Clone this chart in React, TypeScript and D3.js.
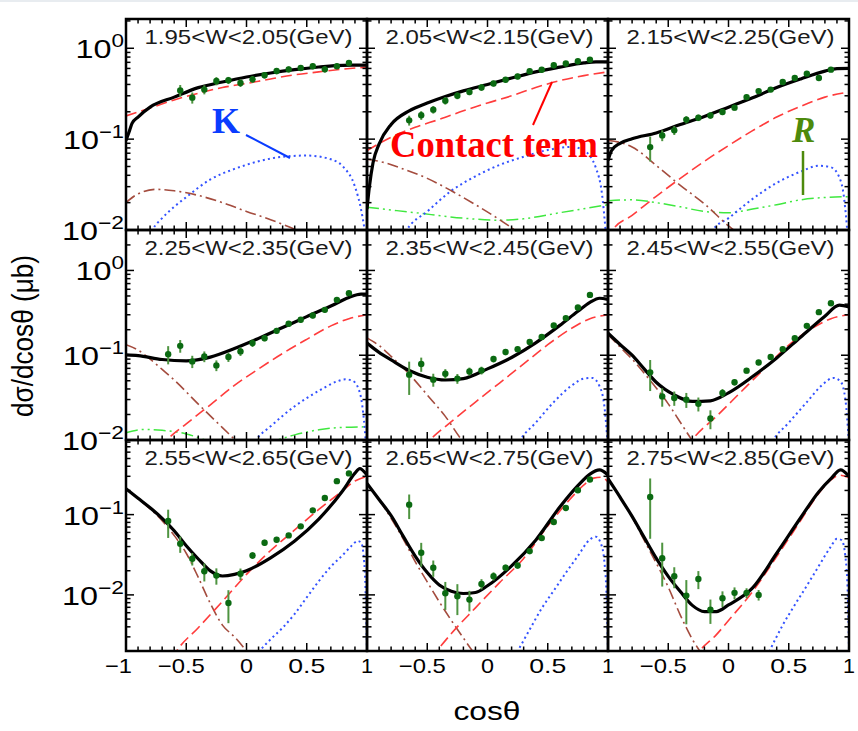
import React from "react";
import * as d3 from "d3";

type Pt = [number, number];

// ---------------- data ----------------
const panelTitles = [
  "1.95<W<2.05(GeV)", "2.05<W<2.15(GeV)", "2.15<W<2.25(GeV)",
  "2.25<W<2.35(GeV)", "2.35<W<2.45(GeV)", "2.45<W<2.55(GeV)",
  "2.55<W<2.65(GeV)", "2.65<W<2.75(GeV)", "2.75<W<2.85(GeV)",
];
const rowYDomains: [number, number][] = [[0.01, 2.1], [0.01, 3.0], [0.002, 0.85]];
const rowMajorTicks = [[1, 0.1, 0.01], [1, 0.1, 0.01], [0.1, 0.01]];
const tickExponents: Record<string, string> = { "1": "0", "0.1": "−1", "0.01": "−2" };
const xMajorTicks = [-1, -0.5, 0, 0.5, 1];
const xTickLabels = ["−1", "−0.5", "0", "0.5", "1"];

// black solid: total
const totalCurves: Pt[][] = [
  [[-1,0.097],[-0.97,0.125],[-0.95,0.149],[-0.9,0.175],[-0.8,0.225],[-0.6,0.29],[-0.4,0.369],[-0.2,0.425],[0,0.483],[0.2,0.535],[0.4,0.582],[0.6,0.622],[0.8,0.65],[1,0.652]],
  [[-1,0.017],[-0.98,0.03],[-0.95,0.055],[-0.9,0.088],[-0.8,0.145],[-0.65,0.205],[-0.5,0.25],[-0.35,0.295],[-0.2,0.34],[0,0.40],[0.2,0.47],[0.4,0.55],[0.6,0.62],[0.8,0.69],[0.9,0.71],[1,0.71]],
  [[-1,0.058],[-0.97,0.075],[-0.9,0.09],[-0.8,0.101],[-0.6,0.117],[-0.4,0.145],[-0.2,0.178],[0,0.225],[0.2,0.285],[0.4,0.37],[0.6,0.46],[0.8,0.56],[0.9,0.598],[1,0.60]],
  [[-1,0.101],[-0.9,0.099],[-0.7,0.089],[-0.5,0.086],[-0.3,0.095],[-0.1,0.12],[0.1,0.158],[0.3,0.212],[0.5,0.285],[0.7,0.38],[0.85,0.48],[0.95,0.525],[1,0.525]],
  [[-1,0.139],[-0.9,0.108],[-0.8,0.088],[-0.65,0.066],[-0.5,0.055],[-0.35,0.051],[-0.2,0.053],[0,0.069],[0.2,0.094],[0.4,0.14],[0.6,0.225],[0.75,0.33],[0.85,0.42],[0.93,0.47],[1,0.455]],
  [[-1,0.182],[-0.9,0.134],[-0.8,0.1],[-0.7,0.069],[-0.6,0.048],[-0.45,0.034],[-0.3,0.0285],[-0.15,0.029],[0,0.036],[0.2,0.056],[0.4,0.093],[0.6,0.164],[0.8,0.289],[0.92,0.39],[1,0.37]],
  [[-1,0.21],[-0.9,0.16],[-0.8,0.122],[-0.7,0.09],[-0.6,0.063],[-0.5,0.041],[-0.4,0.028],[-0.3,0.0199],[-0.2,0.0172],[-0.1,0.018],[0,0.020],[0.2,0.029],[0.4,0.047],[0.6,0.088],[0.8,0.2],[0.9,0.328],[0.94,0.375],[1,0.31]],
  [[-1,0.245],[-0.9,0.154],[-0.8,0.097],[-0.7,0.054],[-0.6,0.0305],[-0.5,0.019],[-0.4,0.0133],[-0.3,0.0111],[-0.2,0.0104],[-0.1,0.0107],[0,0.013],[0.2,0.023],[0.4,0.048],[0.6,0.124],[0.75,0.229],[0.85,0.32],[0.93,0.36],[1,0.31]],
  [[-1,0.28],[-0.9,0.165],[-0.8,0.095],[-0.7,0.052],[-0.6,0.0287],[-0.5,0.017],[-0.4,0.011],[-0.3,0.0074],[-0.2,0.0062],[-0.1,0.0062],[0,0.0075],[0.2,0.0122],[0.4,0.033],[0.6,0.092],[0.75,0.193],[0.85,0.28],[0.93,0.36],[1,0.30]],
];

// red dashed: contact term
const contactCurves: Pt[][] = [
  [[-1,0.18],[-0.8,0.22],[-0.6,0.27],[-0.4,0.32],[-0.2,0.37],[0,0.41],[0.2,0.46],[0.4,0.51],[0.6,0.55],[0.8,0.59],[1,0.62]],
  [[-1,0.075],[-0.8,0.105],[-0.6,0.135],[-0.4,0.165],[-0.2,0.205],[0,0.25],[0.2,0.30],[0.4,0.37],[0.6,0.44],[0.8,0.50],[1,0.55]],
  [[-1,0.0075],[-0.96,0.01],[-0.8,0.0145],[-0.6,0.0235],[-0.4,0.037],[-0.2,0.057],[0,0.085],[0.2,0.124],[0.4,0.175],[0.6,0.23],[0.8,0.29],[1,0.33]],
  [[-0.72,0.008],[-0.66,0.01],[-0.5,0.0155],[-0.3,0.026],[-0.1,0.044],[0.1,0.069],[0.3,0.105],[0.5,0.154],[0.7,0.222],[0.85,0.27],[1,0.30]],
  [[-0.55,0.008],[-0.48,0.01],[-0.3,0.0165],[-0.1,0.028],[0.1,0.047],[0.3,0.079],[0.5,0.133],[0.7,0.209],[0.85,0.27],[1,0.30]],
  [[-0.35,0.0078],[-0.3,0.01],[-0.1,0.019],[0.1,0.0365],[0.3,0.07],[0.5,0.132],[0.7,0.21],[0.85,0.27],[1,0.30]],
  [[-0.62,0.0016],[-0.58,0.002],[-0.4,0.0039],[-0.2,0.0083],[0,0.018],[0.2,0.0357],[0.4,0.0645],[0.6,0.116],[0.8,0.2],[0.9,0.262],[1,0.30]],
  [[-0.47,0.0016],[-0.42,0.002],[-0.3,0.0033],[-0.1,0.0069],[0.1,0.0142],[0.3,0.0284],[0.5,0.072],[0.7,0.165],[0.8,0.235],[0.88,0.285],[0.94,0.292],[1,0.256]],
  [[-0.3,0.0015],[-0.24,0.002],[-0.1,0.0032],[0,0.0048],[0.2,0.011],[0.4,0.03],[0.6,0.085],[0.75,0.185],[0.85,0.27],[0.92,0.31],[1,0.29]],
];

// blue dotted: K exchange
const kaonCurves: Pt[][] = [
  [[-0.82,0.0075],[-0.78,0.01],[-0.7,0.0135],[-0.6,0.018],[-0.5,0.023],[-0.3,0.036],[-0.1,0.047],[0.1,0.057],[0.3,0.064],[0.5,0.066],[0.7,0.06],[0.8,0.05],[0.9,0.03],[0.95,0.017],[0.98,0.01],[1,0.006]],
  [[-0.72,0.0075],[-0.67,0.01],[-0.5,0.016],[-0.3,0.027],[-0.1,0.039],[0.1,0.052],[0.3,0.064],[0.5,0.076],[0.7,0.082],[0.8,0.075],[0.9,0.048],[0.95,0.025],[0.98,0.01],[1,0.005]],
  [[-0.18,0.0075],[-0.13,0.01],[0,0.0135],[0.2,0.022],[0.4,0.033],[0.6,0.044],[0.75,0.051],[0.85,0.049],[0.92,0.038],[0.96,0.022],[0.99,0.008],[1,0.005]],
  [[0.03,0.0075],[0.08,0.01],[0.2,0.0145],[0.4,0.025],[0.6,0.038],[0.75,0.049],[0.82,0.052],[0.88,0.05],[0.93,0.04],[0.96,0.026],[0.99,0.009],[1,0.005]],
  [[0.22,0.0075],[0.27,0.01],[0.4,0.016],[0.55,0.028],[0.7,0.044],[0.8,0.053],[0.87,0.054],[0.93,0.043],[0.97,0.025],[1,0.008]],
  [[0.32,0.0075],[0.37,0.01],[0.5,0.016],[0.65,0.028],[0.78,0.045],[0.87,0.054],[0.93,0.049],[0.97,0.03],[1,0.009]],
  [[0.05,0.0015],[0.11,0.002],[0.2,0.0028],[0.3,0.0039],[0.4,0.0058],[0.5,0.0093],[0.6,0.0148],[0.7,0.0225],[0.8,0.0315],[0.88,0.042],[0.92,0.047],[0.95,0.045],[0.97,0.033],[0.985,0.015],[1,0.002]],
  [[0.2,0.0015],[0.25,0.002],[0.35,0.0037],[0.45,0.0068],[0.55,0.0113],[0.65,0.0188],[0.75,0.0305],[0.85,0.049],[0.9,0.053],[0.94,0.044],[0.97,0.026],[0.99,0.008],[1,0.002]],
  [[0.3,0.0015],[0.34,0.002],[0.45,0.0042],[0.55,0.0075],[0.65,0.013],[0.75,0.023],[0.85,0.04],[0.9,0.05],[0.94,0.048],[0.97,0.03],[0.99,0.01],[1,0.002]],
];

// brown dash-dot
const uChannelCurves: Pt[][] = [
  [[-1,0.020],[-0.9,0.025],[-0.75,0.028],[-0.6,0.027],[-0.4,0.024],[-0.2,0.020],[0,0.016],[0.2,0.013],[0.4,0.0102],[0.5,0.009]],
  [[-1,0.06],[-0.85,0.055],[-0.7,0.047],[-0.5,0.037],[-0.3,0.027],[-0.1,0.019],[0.1,0.013],[0.25,0.0095],[0.3,0.0085]],
  [[-1,0.097],[-0.9,0.092],[-0.8,0.082],[-0.6,0.0514],[-0.4,0.031],[-0.2,0.0194],[0,0.0111],[0.05,0.0098],[0.1,0.0085]],
  [[-1,0.133],[-0.9,0.115],[-0.8,0.09],[-0.7,0.068],[-0.6,0.051],[-0.4,0.0265],[-0.2,0.014],[-0.1,0.0102],[-0.05,0.0087]],
  [[-1,0.16],[-0.9,0.13],[-0.8,0.097],[-0.65,0.06],[-0.5,0.034],[-0.35,0.019],[-0.2,0.0095],[-0.15,0.008]],
  [[-1,0.175],[-0.9,0.125],[-0.8,0.09],[-0.65,0.0503],[-0.5,0.0267],[-0.4,0.0162],[-0.3,0.0098],[-0.25,0.0078]],
  [[-1,0.21],[-0.9,0.158],[-0.8,0.118],[-0.7,0.084],[-0.6,0.055],[-0.5,0.033],[-0.4,0.0165],[-0.3,0.0078],[-0.2,0.0042],[-0.1,0.003],[0,0.002],[0.05,0.0016]],
  [[-1,0.245],[-0.9,0.153],[-0.8,0.09],[-0.7,0.05],[-0.6,0.026],[-0.5,0.0145],[-0.4,0.0082],[-0.3,0.0048],[-0.2,0.0029],[-0.1,0.0018],[-0.05,0.0015]],
  [[-1,0.28],[-0.9,0.163],[-0.8,0.093],[-0.7,0.048],[-0.6,0.025],[-0.5,0.0125],[-0.4,0.0056],[-0.3,0.0028],[-0.23,0.0019],[-0.2,0.0016]],
];

// green dash-dot-dot: resonance R
const resonanceCurves: Pt[][] = [
  [],
  [[-1,0.0178],[-0.6,0.0155],[-0.2,0.0135],[0.1,0.0128],[0.3,0.0133],[0.6,0.0155],[1,0.019]],
  [[-1,0.021],[-0.8,0.0215],[-0.6,0.02],[-0.4,0.018],[-0.2,0.016],[0,0.0155],[0.2,0.017],[0.4,0.019],[0.6,0.0215],[0.8,0.0228],[1,0.0233]],
  [[-1,0.0122],[-0.85,0.0133],[-0.7,0.013],[-0.5,0.0118],[-0.35,0.0101],[-0.2,0.0088],[0,0.0085],[0.2,0.0095],[0.4,0.0115],[0.6,0.0132],[0.8,0.0141],[1,0.0143]],
  [], [], [], [], [],
];

// data points
const cosA = [-0.65,-0.55,-0.45,-0.35,-0.25,-0.15,-0.05,0.05,0.15,0.25,0.35,0.45,0.55,0.65,0.75,0.85];
const cosP1 = [-0.55,-0.45,-0.35,-0.25,-0.15,-0.05,0.05,0.15,0.25,0.35,0.45,0.55,0.65,0.75,0.85];
const cosP9 = [-0.65,-0.55,-0.45,-0.35,-0.25,-0.15,-0.05,0.05,0.15,0.25];
const pointCos = [cosP1, cosA, cosA, cosA, cosA, cosA, cosA, cosA, cosP9];
const pointValues = [
  [0.344,0.286,0.351,0.436,0.444,0.415,0.455,0.504,0.562,0.586,0.607,0.634,0.586,0.634,0.689],
  [0.161,0.183,0.211,0.265,0.30,0.33,0.37,0.41,0.45,0.49,0.56,0.58,0.65,0.68,0.72,0.75],
  [0.0817,0.11,0.125,0.164,0.172,0.182,0.199,0.222,0.29,0.338,0.351,0.426,0.471,0.526,0.471,0.582],
  [0.103,0.129,0.0845,0.0968,0.0759,0.0953,0.111,0.139,0.159,0.194,0.235,0.262,0.294,0.343,0.45,0.54],
  [0.059,0.0787,0.0515,0.0605,0.053,0.0644,0.0662,0.0902,0.109,0.118,0.143,0.164,0.224,0.274,0.365,0.515],
  [0.0628,0.0327,0.0313,0.0299,0.0267,0.0179,0.0359,0.0479,0.0658,0.0822,0.0953,0.118,0.159,0.222,0.322,0.411],
  [0.0832,0.0434,0.0282,0.0197,0.0174,0.00794,0.0183,0.031,0.0447,0.0487,0.0551,0.0714,0.113,0.161,0.261,0.326],
  [0.133,0.0335,0.0218,0.0105,0.0096,0.00873,0.0137,0.0171,0.0218,0.0232,0.0351,0.051,0.0808,0.121,0.201,0.274],
  [0.166,0.0287,0.0171,0.0098,0.0158,0.00655,0.00907,0.0106,0.0106,0.01],
];
const pointErrors = [
  [0.05,0.04,0.04,0.045,0.04,0.04,0.04,0.04,0.045,0.045,0.045,0.045,0.045,0.045,0.05],
  [0.02,0.02,0.02,0.025,0.025,0.025,0.03,0.03,0.03,0.035,0.04,0.04,0.045,0.045,0.05,0.05],
  [0.025,0.015,0.014,0.015,0.014,0.014,0.015,0.016,0.02,0.022,0.022,0.026,0.028,0.03,0.03,0.035],
  [0.025,0.022,0.014,0.014,0.011,0.012,0.013,0.014,0.014,0.016,0.018,0.02,0.022,0.025,0.03,0.035],
  [0.025,0.015,0.009,0.008,0.007,0.007,0.007,0.008,0.009,0.009,0.01,0.011,0.014,0.017,0.02,0.025],
  [0.025,0.008,0.006,0.006,0.005,0.0045,0.004,0.004,0.005,0.006,0.006,0.008,0.01,0.013,0.018,0.022],
  [0.032,0.01,0.005,0.005,0.004,0.0035,0.003,0.003,0.004,0.004,0.004,0.005,0.008,0.01,0.015,0.02],
  [0.045,0.011,0.005,0.004,0.004,0.0025,0.002,0.002,0.002,0.002,0.003,0.004,0.005,0.008,0.012,0.016],
  [0.116,0.016,0.005,0.0055,0.004,0.0022,0.002,0.0018,0.0015,0.0015],
];

// ---------------- layout / style ----------------
const W = 858, H = 731;
const FRAME_LEFT = 126, PANEL_W = 241;
const ROW_TOP = [19, 230, 440];
const ROW_BOTTOM = [230, 440, 651];
const SANS = "'Liberation Sans', Arial, Helvetica, sans-serif";
const SERIF = "'Liberation Serif', 'Times New Roman', serif";
// rendered widths (px) of tick label texts
const xLabelWidth: Record<string, number> = { "−1": 27, "−0.5": 47, "0": 13, "0.5": 37, "1": 12 };
const xDigitWidth: Record<string, number> = { "−1": 12, "−0.5": 37, "0": 13, "0.5": 37, "1": 12 };
const supWidth: Record<string, number> = { "0": 12.5, "−1": 25, "−2": 26 };

const seriesStyles = [
  { data: resonanceCurves, stroke: "#3fe83f", width: 1.5, dash: "12,4,2,4,2,4" },
  { data: kaonCurves, stroke: "#3352ff", width: 2, dash: "2,3.2" },
  { data: uChannelCurves, stroke: "#a44c3e", width: 1.6, dash: "11,4,2,4" },
  { data: contactCurves, stroke: "#ff3c3c", width: 1.6, dash: "11,5" },
  { data: totalCurves, stroke: "#000", width: 3.2, dash: undefined as string | undefined },
];

function minorLogTicks([a, b]: [number, number]) {
  const out: { v: number; major: boolean }[] = [];
  for (let k = Math.floor(Math.log10(a)); k <= Math.ceil(Math.log10(b)); k++) {
    for (let m = 1; m <= 9; m++) {
      const v = m * Math.pow(10, k);
      if (v >= a * 0.999 && v <= b * 1.001) out.push({ v, major: m === 1 });
    }
  }
  return out;
}

export default function App() {
  const panels = d3.range(9).map((i) => {
    const col = i % 3, row = Math.floor(i / 3);
    const left = FRAME_LEFT + col * PANEL_W, right = left + PANEL_W;
    const top = ROW_TOP[row], bottom = ROW_BOTTOM[row];
    const x = d3.scaleLinear().domain([-1, 1]).range([left, right]);
    const y = d3.scaleLog().domain(rowYDomains[row]).range([bottom, top]);
    return { i, col, row, left, right, top, bottom, x, y };
  });
  const xMinor = d3.range(-10, 11).map((k) => k / 10);

  return (
    <svg width={W} height={H} viewBox={`0 0 ${W} ${H}`} style={{ position: "absolute", left: 0, top: 0, background: "#fff" }}>
      <rect x={0} y={0} width={W} height={H} fill="#fff" />
      <rect x={0} y={0} width={W} height={2} fill="#e8ecf0" />
      <defs>
        {panels.map((p) => (
          <clipPath id={`clip${p.i}`} key={p.i}>
            <rect x={p.left} y={p.top} width={p.right - p.left} height={p.bottom - p.top} />
          </clipPath>
        ))}
      </defs>

      {panels.map((p) => {
        const line = d3.line<Pt>().x((d) => p.x(d[0])).y((d) => p.y(d[1])).curve(d3.curveMonotoneX);
        const yTicks = minorLogTicks(rowYDomains[p.row]);
        return (
          <g key={p.i}>
            <g clipPath={`url(#clip${p.i})`}>
              {seriesStyles.map((s, k) =>
                s.data[p.i].length ? (
                  <path key={k} d={line(s.data[p.i]) || ""} fill="none" stroke={s.stroke}
                    strokeWidth={s.width} strokeDasharray={s.dash} strokeLinejoin="round" />
                ) : null
              )}
              {pointCos[p.i].map((c, j) => {
                const v = pointValues[p.i][j], e = pointErrors[p.i][j];
                return (
                  <g key={j}>
                    <line x1={p.x(c)} x2={p.x(c)} y1={p.y(v + e)} y2={p.y(Math.max(v - e, 1e-4))}
                      stroke="#4e9440" strokeWidth={2} />
                    <circle cx={p.x(c)} cy={p.y(v)} r={3.2} fill="#0b6a12" />
                  </g>
                );
              })}
            </g>
            {xMinor.map((t, j) => {
              const major = xMajorTicks.some((m) => Math.abs(m - t) < 1e-9);
              const len = major ? 8 : 4.5;
              const xx = p.x(t);
              return (
                <g key={`x${j}`} stroke="#000" strokeWidth={1.5}>
                  <line x1={xx} x2={xx} y1={p.bottom} y2={p.bottom - len} />
                  <line x1={xx} x2={xx} y1={p.top} y2={p.top + len} />
                </g>
              );
            })}
            {yTicks.map((t, j) => {
              const len = t.major ? 8 : 4.5;
              const yy = p.y(t.v);
              return (
                <g key={`y${j}`} stroke="#000" strokeWidth={1.5}>
                  <line x1={p.left} x2={p.left + len} y1={yy} y2={yy} />
                  <line x1={p.right} x2={p.right - len} y1={yy} y2={yy} />
                </g>
              );
            })}
            <rect x={p.left} y={p.top} width={p.right - p.left} height={p.bottom - p.top}
              fill="none" stroke="#000" strokeWidth={2.5} />
            <text x={(p.left + p.right) / 2 + 2} y={p.top + 25} textAnchor="middle"
              fontFamily={SANS} fontSize={21} fill="#1a1a1a" textLength={208} lengthAdjust="spacingAndGlyphs">
              {panelTitles[p.i]}
            </text>
            {p.row === 2 && xMajorTicks.map((t, j) => {
              if (p.col > 0 && j === 0) return null;
              const lab = xTickLabels[j];
              const endX = p.x(t) + xDigitWidth[lab] / 2;
              return (
                <text key={`xl${j}`} x={endX - xLabelWidth[lab]} y={673} fontFamily={SANS} fontSize={21}
                  fill="#000" textLength={xLabelWidth[lab]} lengthAdjust="spacingAndGlyphs">
                  {lab}
                </text>
              );
            })}
            {p.col === 0 && rowMajorTicks[p.row].map((t, j) => {
              const ex = tickExponents[String(t)];
              const sw = supWidth[ex];
              const yy = p.y(t);
              return (
                <g key={`yl${j}`} fontFamily={SANS} fill="#000">
                  <text x={124 - sw - 36} y={yy + 10} fontSize={25} textLength={36}
                    lengthAdjust="spacingAndGlyphs">10</text>
                  <text x={124 - sw} y={yy - 1} fontSize={18} textLength={sw}
                    lengthAdjust="spacingAndGlyphs">{ex}</text>
                </g>
              );
            })}
          </g>
        );
      })}

      <text transform="translate(33,336) rotate(-90) scale(1,1.25)" textAnchor="middle"
        fontFamily={SANS} fontSize={24} fill="#000" textLength={162} lengthAdjust="spacingAndGlyphs">
        dσ/dcosθ (μb)
      </text>
      <text x={487} y={720} textAnchor="middle" fontFamily={SANS} fontSize={25} fill="#000"
        textLength={67} lengthAdjust="spacingAndGlyphs">
        cosθ
      </text>

      <text x={212} y={133} fontFamily={SERIF} fontWeight="bold" fontSize={36} fill="#0a3cff">K</text>
      <line x1={246} y1={135} x2={290} y2={158} stroke="#0a3cff" strokeWidth={2} />
      <text x={390} y={157} fontFamily={SERIF} fontWeight="bold" fontSize={38} fill="#ff0000"
        textLength={208} lengthAdjust="spacingAndGlyphs">Contact term</text>
      <line x1={552} y1={82} x2={533} y2={125} stroke="#ff0000" strokeWidth={2} />
      <text x={792} y={142} fontFamily={SERIF} fontWeight="bold" fontStyle="italic" fontSize={35} fill="#4d8a0c">R</text>
      <line x1={803} y1={151} x2={803} y2={195} stroke="#4d8a0c" strokeWidth={2.5} />
    </svg>
  );
}
